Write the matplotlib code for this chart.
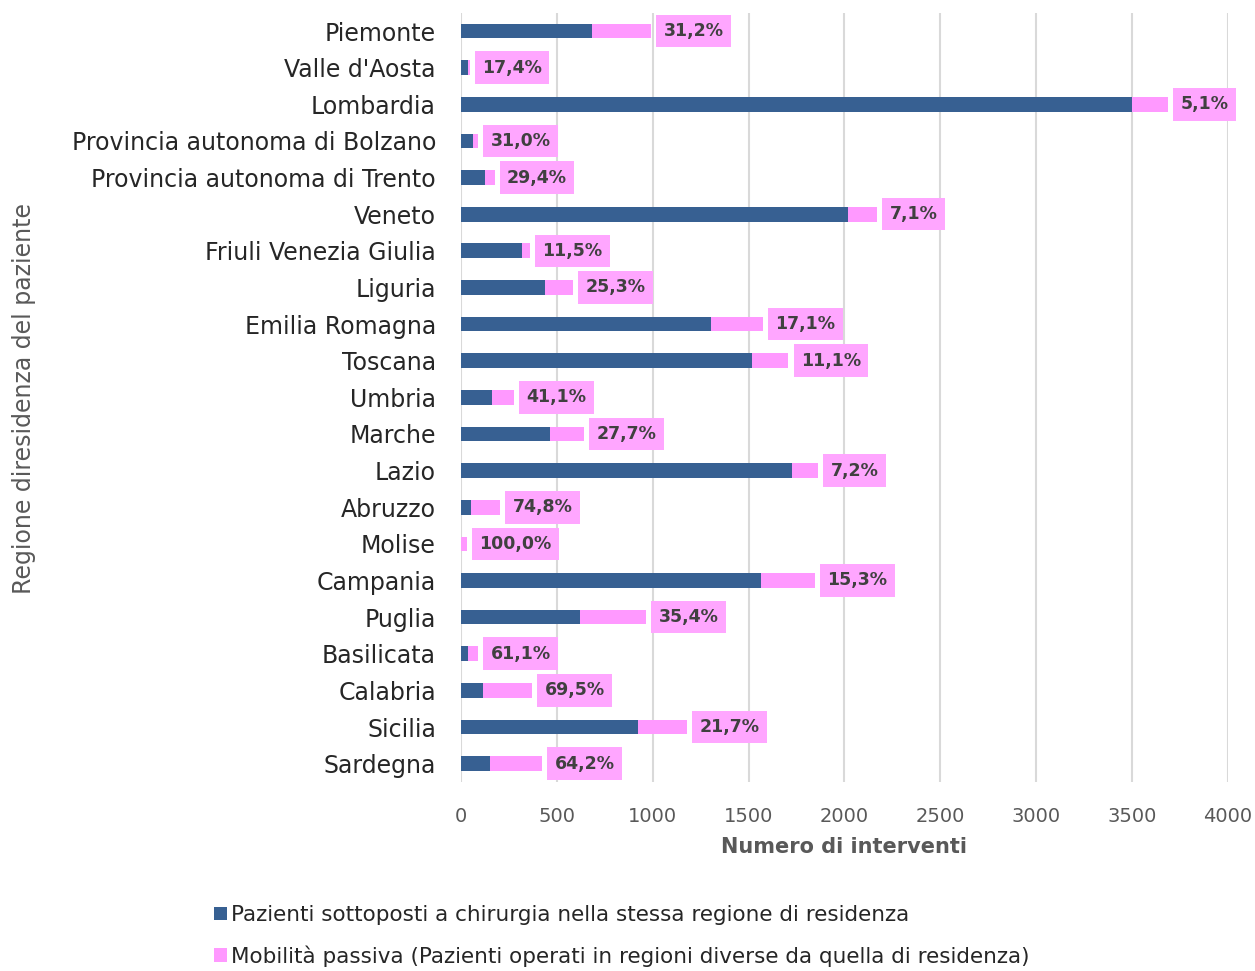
import matplotlib.pyplot as plt
import numpy as np

# data
regioni = ["Piemonte", "Valle d'Aosta", "Lombardia", "Provincia autonoma di Bolzano",
           "Provincia autonoma di Trento", "Veneto", "Friuli Venezia Giulia", "Liguria",
           "Emilia Romagna", "Toscana", "Umbria", "Marche", "Lazio", "Abruzzo", "Molise",
           "Campania", "Puglia", "Basilicata", "Calabria", "Sicilia", "Sardegna"]
stessa_regione = [682, 37, 3499, 62, 124, 2016, 319, 436, 1306, 1518, 163, 463, 1728,
                  51, 0, 1564, 623, 35, 113, 923, 151]
mobilita_passiva = [309, 8, 188, 28, 51, 154, 41, 148, 269, 190, 113, 178, 134,
                    152, 31, 282, 342, 55, 257, 256, 271]
percentuali = [31.2, 17.4, 5.1, 31.0, 29.4, 7.1, 11.5, 25.3, 17.1, 11.1, 41.1, 27.7, 7.2,
               74.8, 100.0, 15.3, 35.4, 61.1, 69.5, 21.7, 64.2]

blu = '#376092'
rosa = '#FF99FF'
testo = '#404040'
grigio = '#595959'

plt.rcParams['font.family'] = ['DejaVu Sans']

fig = plt.figure(figsize=(12.55, 9.71), dpi=100)
ax = fig.add_axes([0.3673, 0.1947, 0.6112, 0.7922])

y = np.arange(len(regioni))
ax.barh(y, stessa_regione, height=0.4, color=blu, zorder=3,
        label='Pazienti sottoposti a chirurgia nella stessa regione di residenza')
ax.barh(y, mobilita_passiva, left=stessa_regione, height=0.4, color=rosa, zorder=3,
        label='Mobilità passiva (Pazienti operati in regioni diverse da quella di residenza)')

# etichette percentuali
for i in range(len(regioni)):
    tot = stessa_regione[i] + mobilita_passiva[i]
    lab = ('%.1f%%' % percentuali[i]).replace('.', ',')
    ax.annotate(lab, (tot, y[i]), xytext=(9, 0), textcoords='offset points',
                ha='left', va='center', fontsize=12.5, fontweight='bold', color=testo,
                bbox=dict(boxstyle='square,pad=0.42', fc='#FFA6FF', ec='none'), zorder=4)

ax.set_xlim(0, 4000)
ax.set_ylim(len(regioni) - 0.5, -0.5)
ax.set_xticks(np.arange(0, 4001, 500))
ax.set_yticks(y)
ax.set_yticklabels(regioni, fontsize=17, color='#262626')
ax.tick_params(axis='x', labelsize=14, labelcolor=grigio, length=0, pad=18)
ax.tick_params(axis='y', length=0, pad=18)
ax.grid(True, axis='x', color='#D9D9D9', linewidth=1.5, zorder=0)
for s in ax.spines.values():
    s.set_visible(False)

ax.set_xlabel('Numero di interventi', fontsize=15, fontweight='bold', color=grigio, labelpad=8)
fig.text(0.019, 0.59, 'Regione diresidenza del paziente', rotation=90, fontsize=17,
         color=grigio, ha='center', va='center')

fig.legend(loc='upper left', bbox_to_anchor=(0.155, 0.088), frameon=False, fontsize=15.5,
           handlelength=0.6, handleheight=0.6, handletextpad=0.2, labelspacing=0.95,
           labelcolor='#262626')

plt.savefig('out.png', dpi=100)
